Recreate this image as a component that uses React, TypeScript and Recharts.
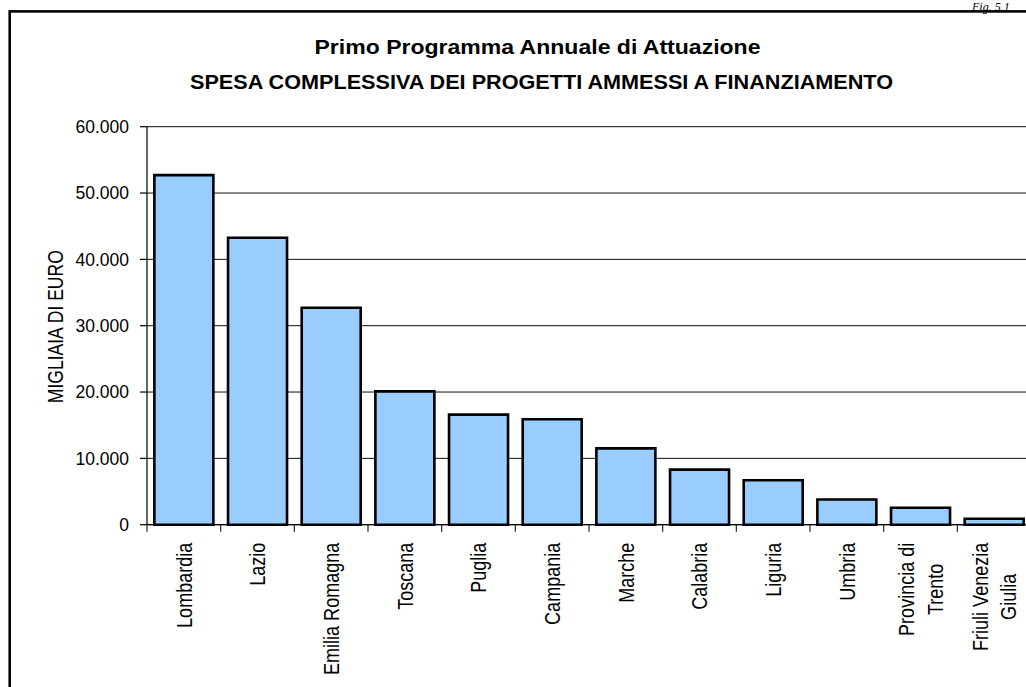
import { FC } from "react";
import {
    BarChart,
    Bar,
    XAxis,
    YAxis,
    CartesianGrid,
} from "recharts";

const regioni = [
    'Lombardia',
    'Lazio',
    'Emilia Romagna',
    'Toscana',
    'Puglia',
    'Campania',
    'Marche',
    'Calabria',
    'Liguria',
    'Umbria',
    'Provincia di\nTrento',
    'Friuli Venezia\nGiulia',
];

// migliaia di euro
const spesa = [52700, 43250, 32700, 20100, 16600, 15900, 11500, 8300, 6700, 3800, 2550, 900];

const yTicks = [0, 10000, 20000, 30000, 40000, 50000, 60000];

const titolo1 = 'Primo Programma Annuale di Attuazione';
const titolo2 = 'SPESA COMPLESSIVA DEI PROGETTI AMMESSI A FINANZIAMENTO';
const yLabel = 'MIGLIAIA DI EURO';
const figLabel = 'Fig. 5.1';

const data = regioni.map((name, i) => ({ name, value: spesa[i] }));

const SANS = '"Liberation Sans", Arial, sans-serif';
const LABEL_SIZE = 22;
const NARROW = 0.82;

const fmt = (v: number) => v === 0 ? '0' : String(v).replace(/\B(?=(\d{3})+(?!\d))/g, '.');

let ctx: CanvasRenderingContext2D | null = null;
const measure = (s: string) => {
    if (!ctx) {
        ctx = document.createElement('canvas').getContext('2d');
    }
    if (!ctx) return s.length * LABEL_SIZE * 0.5;
    ctx.font = `${LABEL_SIZE}px "Liberation Sans"`;
    return ctx.measureText(s).width * NARROW;
};

const RegionTick: FC<any> = ({ x, y, payload }) => {
    const half = payload?.offset || 36.85;
    const lines = String(payload.value).split('\n');
    const top = y + 11; // end of the text (rotated, reads upward)
    const maxLen = Math.max(...lines.map(measure));
    return <g>
        <line x1={x - half} x2={x - half} y1={y - 7} y2={y} stroke="#222" strokeWidth={1.2} />
        {lines.map((l, i) => {
            const base = 7.85 + (i - (lines.length - 1) / 2) * 28.4;
            const multi = lines.length > 1;
            const ty = multi ? top + maxLen / 2 : top;
            return <g key={i} transform={`translate(${x + base},${ty}) rotate(-90)`}>
                <text
                    x={0}
                    y={0}
                    transform={`scale(${NARROW},1)`}
                    textAnchor={multi ? 'middle' : 'end'}
                    fontFamily={SANS}
                    fontSize={LABEL_SIZE}
                    fill="#000"
                >{l}</text>
            </g>
        })}
    </g>
};

const App: FC = () => {
    return <div style={{ position: 'absolute', left: 0, top: 0, width: 1026, height: 687, overflow: 'hidden', background: '#fff' }}>
        <BarChart
            width={1100}
            height={687}
            data={data}
            barCategoryGap="10%"
            margin={{
                top: 126.7,
                right: 69,
                left: 0,
                bottom: 0
            }}
        >
            <CartesianGrid vertical={false} stroke="#111" strokeWidth={1} />
            <XAxis
                dataKey="name"
                height={162.3}
                interval={0}
                tickLine={false}
                tickSize={7}
                tickMargin={0}
                axisLine={{ stroke: '#000', strokeWidth: 1.2 }}
                tick={<RegionTick />}
            />
            <YAxis
                width={147}
                domain={[0, 60000]}
                ticks={yTicks}
                interval={0}
                tickFormatter={fmt}
                tickSize={7}
                tickMargin={11}
                axisLine={{ stroke: '#000', strokeWidth: 1.2 }}
                tickLine={{ stroke: '#000', strokeWidth: 1.2 }}
                tick={{ fontSize: 17.5, fontFamily: SANS, fill: '#000' }}
            />
            <Bar dataKey="value" fill="#99CCFF" stroke="#000" strokeWidth={2.6} isAnimationActive={false} />
        </BarChart>
        <svg width={1026} height={687} style={{ position: 'absolute', left: 0, top: 0, pointerEvents: 'none' }}>
            <rect x={9.7} y={11.4} width={2000} height={2000} fill="none" stroke="#000" strokeWidth={2.6} />
            <text x={972} y={10.8} fontFamily='"Liberation Serif", serif' fontStyle="italic" fontSize={12} fill="#000">{figLabel}</text>
            <text x={537.5} y={54} textAnchor="middle" fontFamily={SANS} fontWeight="bold" fontSize={21}
                textLength={446} lengthAdjust="spacingAndGlyphs" fill="#000">{titolo1}</text>
            <text x={541.5} y={89} textAnchor="middle" fontFamily={SANS} fontWeight="bold" fontSize={21}
                textLength={703} lengthAdjust="spacingAndGlyphs" fill="#000">{titolo2}</text>
            <g transform="translate(63.3,326.7) rotate(-90)">
                <text x={0} y={0} textAnchor="middle" fontFamily={SANS} fontSize={22}
                    textLength={153} lengthAdjust="spacingAndGlyphs" fill="#000">{yLabel}</text>
            </g>
        </svg>
    </div>
}

export default App
